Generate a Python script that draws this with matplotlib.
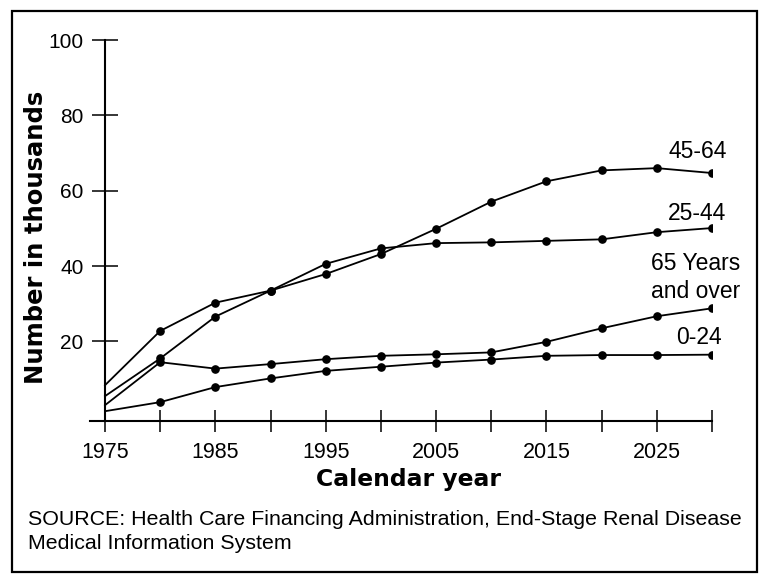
import matplotlib
matplotlib.use('Agg')
import matplotlib.pyplot as plt
from matplotlib.patches import Rectangle

# ESRD patients by age group, projections to 2030
years = [1975, 1980, 1985, 1990, 1995, 2000, 2005, 2010, 2015, 2020, 2025, 2030]
age_45_64 = [5.5, 15.5, 26.6, 33.5, 37.9, 43.2, 49.9, 57.1, 62.5, 65.4, 66.0, 64.7]
age_25_44 = [8.4, 22.8, 30.3, 33.5, 40.6, 44.7, 46.1, 46.3, 46.7, 47.1, 49.0, 50.1]
age_65_up = [3.1, 14.5, 12.8, 14.0, 15.3, 16.2, 16.6, 17.1, 19.9, 23.5, 26.7, 28.8]
age_0_24 = [1.5, 3.9, 7.9, 10.2, 12.2, 13.3, 14.4, 15.2, 16.2, 16.4, 16.4, 16.5]

series_labels = ['45-64', '25-44', '65 Years\nand over', '0-24']
x_ticks = list(range(1975, 2031, 5))
x_ticklabels = [str(y) if (y - 1975) % 10 == 0 else '' for y in x_ticks]
y_ticks = [20, 40, 60, 80, 100]

plt.rcParams['font.family'] = ['Liberation Sans', 'DejaVu Sans']

W, H = 770, 584
fig = plt.figure(figsize=(W / 100, H / 100), dpi=100)

# axes box in pixels: left 90, right 712, top 40, bottom 421
ax = fig.add_axes([90 / W, 1 - 421 / H, (712 - 90) / W, (421 - 40) / H])

# label placement (pixel offsets from the last point) and alignment
label_opts = [
    (15, 22, 'right'),
    (14, 15, 'right'),
    (-16, 31, 'center'),
    (10, 17, 'right'),
]

for vals, lab, (dx, dy, ha) in zip([age_45_64, age_25_44, age_65_up, age_0_24],
                                   series_labels, label_opts):
    ax.plot(years, vals, color='black', lw=1.3, marker='o', ms=5.2,
            markevery=list(range(1, len(years))))
    ax.annotate(lab, xy=(years[-1], vals[-1]), xytext=(dx, dy),
                textcoords='offset pixels', ha=ha, va='center',
                multialignment='center', fontsize=16.5, linespacing=1.3)

ax.set_xlim(1973.64, 2030)
ax.set_ylim(-1.1, 100)
ax.spines['top'].set_visible(False)
ax.spines['right'].set_visible(False)
ax.spines['left'].set_position(('data', 1975))
ax.spines['left'].set_bounds(-1.1, 100)
for s in ['left', 'bottom']:
    ax.spines[s].set_linewidth(1.5)

ax.set_xticks(x_ticks)
ax.set_xticklabels(x_ticklabels)
ax.set_yticks(y_ticks)
ax.tick_params(axis='x', direction='inout', length=16, width=1.1, pad=7, labelsize=15.5)
ax.tick_params(axis='y', direction='inout', length=19, width=1.1, pad=6, labelsize=15)

fig.text(36 / W, 1 - 237 / H, 'Number in thousands', rotation=90, ha='center',
         va='center', fontsize=17.5, fontweight='bold', family='DejaVu Sans')
fig.text(409 / W, 1 - 486 / H, 'Calendar year', ha='center', va='baseline',
         fontsize=16.9, fontweight='bold', family='DejaVu Sans')

fig.text(28 / W, 1 - 525 / H,
         'SOURCE: Health Care Financing Administration, End-Stage Renal Disease',
         ha='left', va='baseline', fontsize=15.4)
fig.text(28 / W, 1 - 549 / H, 'Medical Information System',
         ha='left', va='baseline', fontsize=15.4)

# outer frame
fig.patches.append(Rectangle((12 / W, 1 - 572 / H), 745 / W, 561 / H,
                             transform=fig.transFigure, fill=False,
                             edgecolor='black', lw=1.6))

fig.savefig('out.png', dpi=100)
